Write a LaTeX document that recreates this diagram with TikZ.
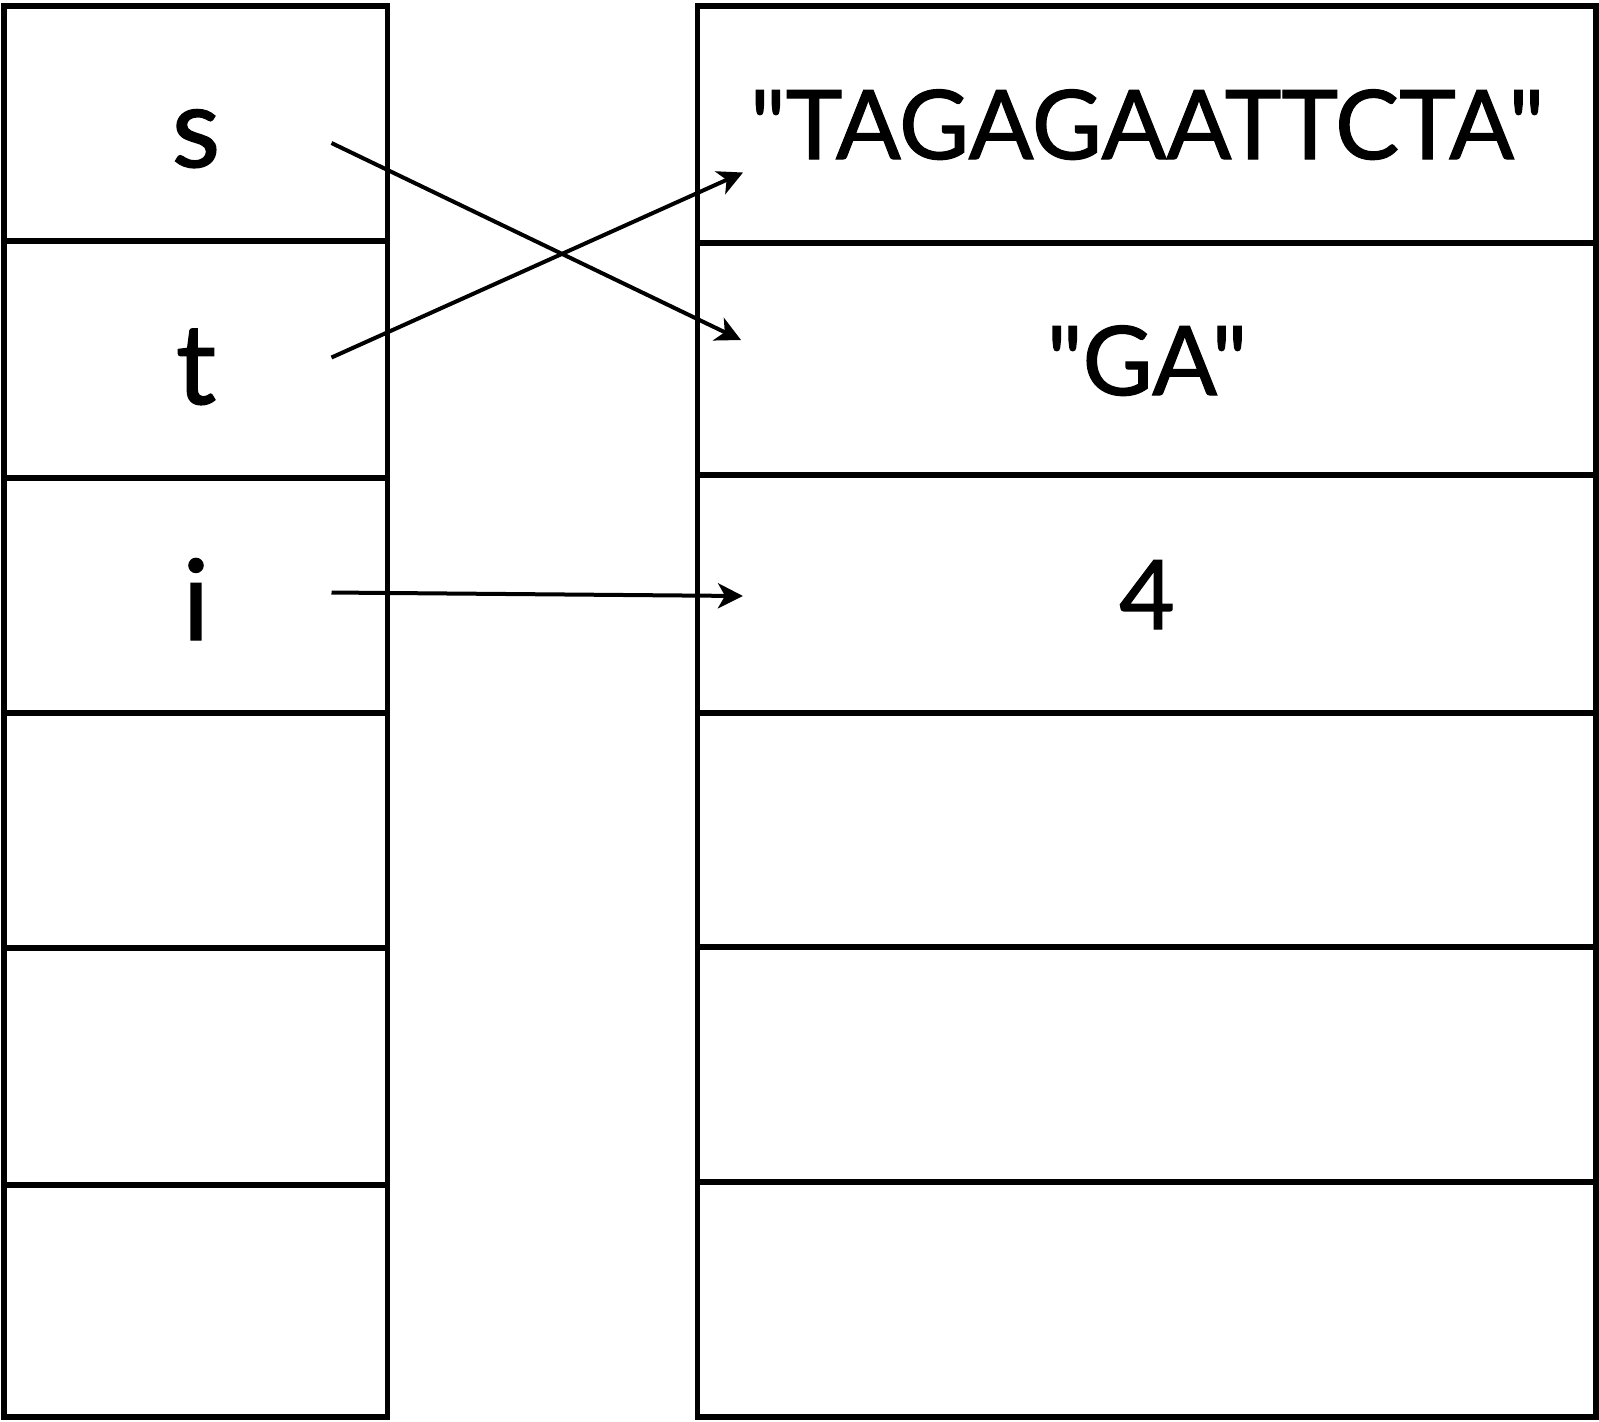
\documentclass[tikz,border=0pt]{standalone}
\usepackage{fontspec}
\setmainfont{Lato}
\newfontfamily\lblfont{Lato}[FakeBold=1.2]
\newcommand{\dq}{\char"22\relax}
\usetikzlibrary{arrows.meta}
\begin{document}
\begin{tikzpicture}[x=0.5pt,y=-0.5pt,
  grid/.style={line width=2.8pt,black},
  conn/.style={line width=2pt,black,-{Stealth[length=12.5pt,width=12.5pt,inset=3.5pt]}},
  lbl/.style={anchor=base,inner sep=0pt,font=\lblfont\fontsize{48}{50}\selectfont},
  var/.style={anchor=base,inner sep=0pt,font=\lblfont\fontsize{56}{60}\selectfont}]
\useasboundingbox (0,0) rectangle (1599,1421);
% left column
\draw[grid] (4,6) rectangle (387.5,1417);
\foreach \yy in {241,478,713,948,1185} \draw[grid] (4,\yy) -- (387.5,\yy);
% right column
\draw[grid] (697.5,6) rectangle (1596,1417);
\foreach \yy in {243,475,713,947,1182} \draw[grid] (697.5,\yy) -- (1596,\yy);
% labels
\node[var] (s) at (196,167) {s};
\node[var] (t) at (196,404) {t};
\node[var] (i) at (196,640) {i};
\node[lbl] (v1) at (1147,159) {\dq TAGAGAATTCTA\dq};
\node[lbl] (v2) at (1147,395) {\dq GA\dq};
\node[lbl] (v3) at (1147,629) {4};
% connector ends
\coordinate (sa) at (331.5,143);
\coordinate (ta) at (331.5,357.5);
\coordinate (ia) at (331.5,592.5);
\coordinate (sb) at (741,340);
\coordinate (tb) at (743,172.5);
\coordinate (ib) at (743,596);
\draw[conn] (sa) -- (sb);
\draw[conn] (ta) -- (tb);
\draw[conn] (ia) -- (ib);
\end{tikzpicture}
\end{document}
